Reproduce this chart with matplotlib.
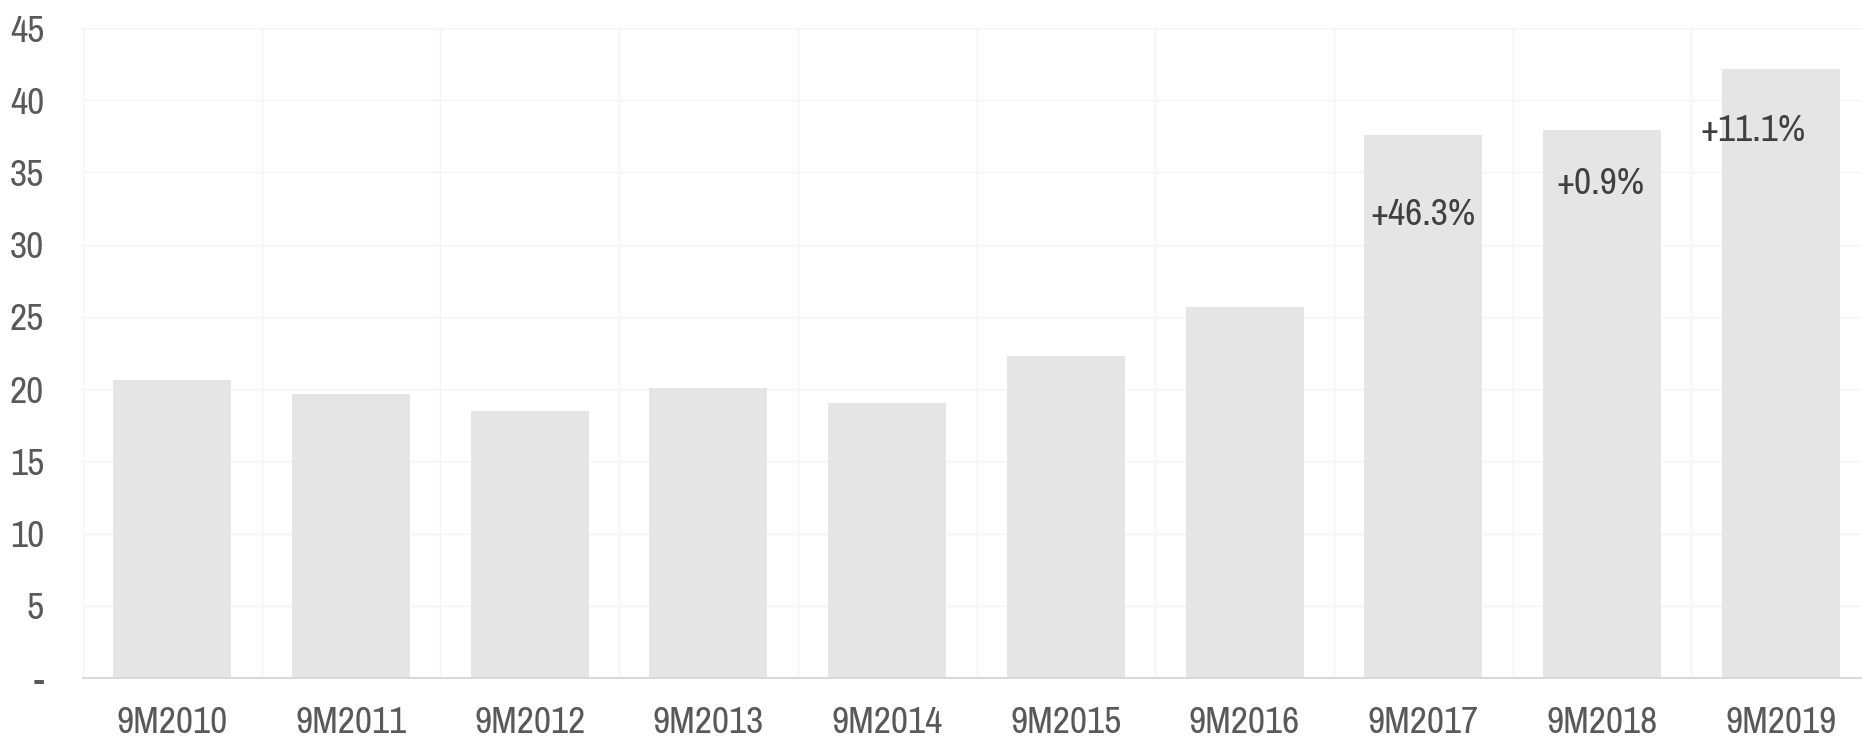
import matplotlib.pyplot as plt
import numpy as np

categories = ['9M2010', '9M2011', '9M2012', '9M2013', '9M2014',
              '9M2015', '9M2016', '9M2017', '9M2018', '9M2019']
values = [20.6, 19.65, 18.5, 20.07, 19.03, 22.3, 25.66, 37.58, 37.92, 42.15]
growth_labels = ['+46.3%', '+0.9%', '+11.1%']
growth_idx = [7, 8, 9]
growth_dx = [0.0, -0.01, -0.157]
growth_y = [32.1, 34.2, 37.9]
yticks = [0, 5, 10, 15, 20, 25, 30, 35, 40, 45]
ytick_labels = ['-', '5', '10', '15', '20', '25', '30', '35', '40', '45']

plt.rcParams['font.family'] = ['Archivo Narrow', 'DejaVu Sans']

fig = plt.figure(figsize=(18.62, 7.37), dpi=100)
ax = fig.add_axes([83 / 1862, 1 - 678 / 737, 1787 / 1862, 650 / 737])

x = np.arange(len(categories))
ax.bar(x, values, width=0.66, color='#e5e5e5', zorder=2)

for lbl, i, dx, y in zip(growth_labels, growth_idx, growth_dx, growth_y):
    ax.text(i + dx, y, lbl, ha='center', va='center', fontsize=27, color='#404040', zorder=3)

ax.set_xlim(-0.5, len(categories) - 0.5)
ax.set_ylim(0, 45)
ax.set_yticks(yticks)
ax.set_yticklabels(ytick_labels)
ax.set_xticks(x)
ax.set_xticklabels(categories)
ax.set_xticks(np.arange(-0.5, len(categories), 1), minor=True)

ax.tick_params(axis='both', which='both', length=0, labelsize=27, labelcolor='#595959')
ax.tick_params(axis='y', pad=28)
ax.tick_params(axis='x', pad=20)

ax.grid(True, axis='y', color='#f4f4f4', linewidth=1, zorder=0)
ax.grid(True, axis='x', which='minor', color='#f4f4f4', linewidth=1, zorder=0)

for s in ['top', 'right', 'left']:
    ax.spines[s].set_visible(False)
ax.spines['bottom'].set_color('#d9d9d9')
ax.spines['bottom'].set_linewidth(1.5)

fig.savefig('out.png', dpi=100)
